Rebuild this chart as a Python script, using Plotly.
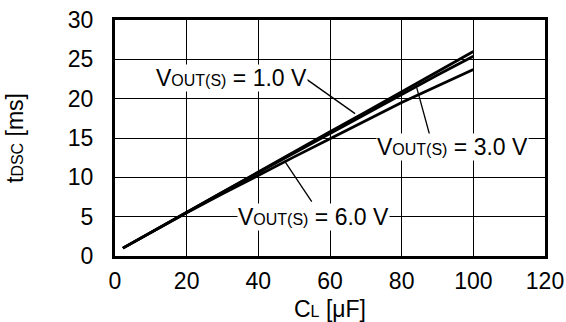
import plotly.graph_objects as go

# Data
cl_uF = [2.2, 10, 20, 30, 40, 50, 60, 70, 80, 90, 100]
t_v10 = [1.0, 3.0, 5.6, 8.2, 10.7, 13.3, 15.8, 18.3, 20.9, 23.5, 26.0]
t_v30 = [1.0, 3.0, 5.6, 8.1, 10.6, 13.1, 15.6, 18.1, 20.6, 23.0, 25.4]
t_v60 = [1.0, 3.0, 5.5, 7.9, 10.3, 12.6, 14.9, 17.2, 19.5, 21.6, 23.7]
x_ticks = [0, 20, 40, 60, 80, 100, 120]
y_ticks = [0, 5, 10, 15, 20, 25, 30]

FONT = "Liberation Sans, Arial, sans-serif"
SUB = "<span style='font-size:16px'>{}</span>"

fig = go.Figure()
for name, ys in [("1.0 V", t_v10), ("3.0 V", t_v30), ("6.0 V", t_v60)]:
    fig.add_trace(go.Scatter(x=cl_uF, y=ys, mode="lines", name=name,
                             line=dict(color="black", width=2.8),
                             showlegend=False))

def label(text, x, y):
    fig.add_annotation(x=x, y=y, xref="x", yref="y", text=text,
                       showarrow=False, bgcolor="white", borderpad=0,
                       font=dict(family=FONT, size=23, color="black"))

def pointer(x0, y0, x1, y1):
    fig.add_shape(type="line", xref="x", yref="y", x0=x0, y0=y0, x1=x1, y1=y1,
                  line=dict(color="black", width=1.3))

pointer(53.5, 22.45, 67.0, 18.1)
pointer(87.9, 15.25, 84.2, 21.4)
pointer(54.9, 6.9, 47.3, 12.1)

label("V" + SUB.format("OUT(S)") + " = 1.0 V", 32.4, 22.6)
label("V" + SUB.format("OUT(S)") + " = 3.0 V", 94.2, 13.9)
label("V" + SUB.format("OUT(S)") + " = 6.0 V", 55.5, 5.0)

axis_common = dict(showline=True, linecolor="black", linewidth=3, mirror=True,
                   showgrid=True, gridcolor="black", gridwidth=1.2,
                   zeroline=False, ticks="", ticklabeloverflow="allow",
                   tickfont=dict(family=FONT, size=23, color="black"))

fig.update_xaxes(range=[0, 120], tickvals=x_ticks, ticktext=[str(v) for v in x_ticks],
                 title=dict(text="C" + SUB.format("L") + " [μF]", standoff=24,
                            font=dict(family=FONT, size=23, color="black")),
                 ticklabelstandoff=2, **axis_common)
fig.update_yaxes(range=[0, 30], tickvals=y_ticks, ticktext=[str(v) for v in y_ticks],
                 title=dict(text="t" + SUB.format("DSC") + " [ms]", standoff=38,
                            font=dict(family=FONT, size=23, color="black")),
                 ticklabelstandoff=14, **axis_common)

fig.update_layout(width=566, height=322,
                  margin=dict(l=115, r=21, t=20, b=66, autoexpand=False),
                  plot_bgcolor="white", paper_bgcolor="white",
                  font=dict(family=FONT, color="black"))

# remove the default page margin so the figure fills the window exactly
fig.write_html("out.html",
               config={"displayModeBar": False},
               post_script="document.body.style.margin='0';"
                           "document.body.style.overflow='hidden';")
